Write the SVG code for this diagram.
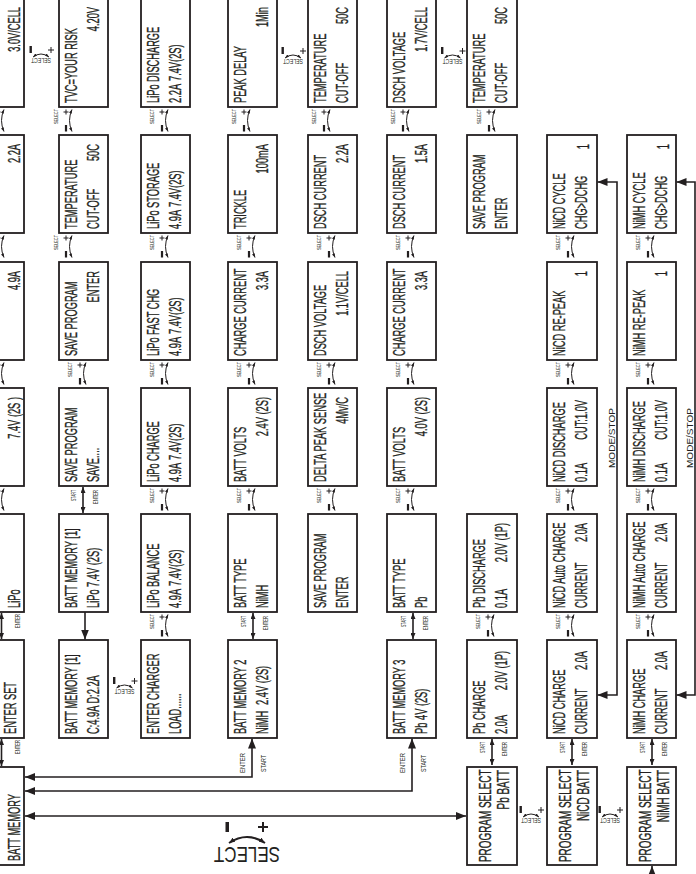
<svg xmlns="http://www.w3.org/2000/svg" width="696" height="874" viewBox="0 0 696 874">
<style>
.box{fill:#fff;stroke:#231f20;stroke-width:1.8}
.t{font-family:"Liberation Sans",Arial,sans-serif;font-size:16px;fill:#231f20;stroke:#231f20;stroke-width:0.35}
.s{font-family:"Liberation Sans",Arial,sans-serif;fill:#231f20}
.ln{fill:none;stroke:#231f20;stroke-width:1.6}
.thin{fill:none;stroke:#231f20;stroke-width:1}
.e{text-anchor:end}
.m{text-anchor:middle}
</style>
<defs>
<marker id="ah" viewBox="0 0 10 8" refX="10" refY="4" markerWidth="10" markerHeight="8" markerUnits="userSpaceOnUse" orient="auto-start-reverse"><path d="M0,0L10,4L0,8z" fill="#231f20"/></marker>
<marker id="as" viewBox="0 0 6 5" refX="6" refY="2.5" markerWidth="6" markerHeight="5" markerUnits="userSpaceOnUse" orient="auto-start-reverse"><path d="M0,0L6,2.5L0,5z" fill="#231f20"/></marker>
<marker id="at" viewBox="0 0 4 3" refX="4" refY="1.5" markerWidth="4" markerHeight="3" markerUnits="userSpaceOnUse" orient="auto-start-reverse"><path d="M0,0L4,1.5L0,3z" fill="#231f20"/></marker>
<g id="selV">
<text class="s" font-size="6" transform="translate(13,17) rotate(-90)" textLength="15" lengthAdjust="spacingAndGlyphs">SELECT</text>
<path d="M18.5,5h5M21,2.5v5" class="thin"/>
<rect x="19.9" y="18" width="2.2" height="6.5" fill="#231f20"/>
<path d="M27,2.5Q22,13.5 27,24.5" class="thin" marker-start="url(#at)" marker-end="url(#at)"/>
</g>
<g id="selH">
<rect x="-11.5" y="0" width="2.4" height="7" fill="#231f20"/>
<path d="M7,4h6M10,1v6" class="thin"/>
<path d="M-8,11Q0,5 8,11" class="thin" marker-start="url(#at)" marker-end="url(#at)"/>
<text class="s m" font-size="7" transform="translate(0,12) rotate(180)" textLength="20" lengthAdjust="spacingAndGlyphs">SELECT</text>
</g>
<g id="dbl">
<path d="M25,1V27" class="ln" marker-start="url(#as)" marker-end="url(#as)"/>
<text class="s e" font-size="6.5" transform="translate(18,4) rotate(-90)" textLength="11" lengthAdjust="spacingAndGlyphs">START</text>
<text class="s e" font-size="6.5" transform="translate(40,4) rotate(-90)" textLength="14" lengthAdjust="spacingAndGlyphs">ENTER</text>
</g>
</defs>
<rect width="696" height="874" fill="#fff"/>

<!-- column 0 -->
<g id="c0r0" transform="translate(-24,107) rotate(-90)"><rect class="box" width="109" height="48"/><g transform="scale(0.58,1)"><text class="t e" x="172.4" y="44">3.0V/CELL</text></g></g>
<g id="c0r1" transform="translate(-24,233) rotate(-90)"><rect class="box" width="98" height="48"/><g transform="scale(0.58,1)"><text class="t e" x="153.4" y="44">2.2A</text></g></g>
<g id="c0r2" transform="translate(-24,360) rotate(-90)"><rect class="box" width="98" height="48"/><g transform="scale(0.58,1)"><text class="t e" x="153.4" y="44">4.9A</text></g></g>
<g id="c0r3" transform="translate(-24,486) rotate(-90)"><rect class="box" width="98" height="48"/><g transform="scale(0.58,1)"><text class="t e" x="153.4" y="44">7.4V (2S )</text></g></g>
<g id="c0r4" transform="translate(-24,612) rotate(-90)"><rect class="box" width="98" height="48"/><g transform="scale(0.58,1)"><text class="t" x="6.9" y="44">LiPo</text></g></g>
<g id="c0r5" transform="translate(-24,738) rotate(-90)"><rect class="box" width="98" height="48"/><g transform="scale(0.58,1)"><text class="t" x="6.9" y="40">ENTER SET</text></g></g>
<g id="c0r6" transform="translate(-24,865) rotate(-90)"><rect class="box" width="98" height="48"/><g transform="scale(0.58,1)"><text class="t" x="6.9" y="44">BATT MEMORY</text></g></g>

<!-- column 1 -->
<g id="c1r0" transform="translate(59,107) rotate(-90)"><rect class="box" width="109" height="49"/><g transform="scale(0.58,1)"><text class="t" x="6.9" y="18">TVC=YOUR RISK</text><text class="t e" x="172.4" y="40">4.20V</text></g></g>
<g id="c1r1" transform="translate(59,233) rotate(-90)"><rect class="box" width="98" height="49"/><g transform="scale(0.58,1)"><text class="t" x="6.9" y="18">TEMPERATURE</text><text class="t" x="6.9" y="40">CUT-OFF</text><text class="t e" x="153.4" y="40">50C</text></g></g>
<g id="c1r2" transform="translate(59,360) rotate(-90)"><rect class="box" width="98" height="49"/><g transform="scale(0.58,1)"><text class="t" x="6.9" y="18">SAVE PROGRAM</text><text class="t e" x="153.4" y="40">ENTER</text></g></g>
<g id="c1r3" transform="translate(59,486) rotate(-90)"><rect class="box" width="98" height="49"/><g transform="scale(0.58,1)"><text class="t" x="6.9" y="18">SAVE PROGRAM</text><text class="t" x="6.9" y="40">SAVE....</text></g></g>
<g id="c1r4" transform="translate(59,612) rotate(-90)"><rect class="box" width="98" height="49"/><g transform="scale(0.58,1)"><text class="t" x="6.9" y="18">BATT MEMORY [1]</text><text class="t" x="6.9" y="40">LiPo 7.4V (2S)</text></g></g>
<g id="c1r5" transform="translate(59,738) rotate(-90)"><rect class="box" width="98" height="49"/><g transform="scale(0.58,1)"><text class="t" x="6.9" y="18">BATT MEMORY [1]</text><text class="t" x="6.9" y="40">C:4.9A D:2.2A</text></g></g>

<!-- column 2 -->
<g id="c2r0" transform="translate(141,107) rotate(-90)"><rect class="box" width="109" height="49"/><g transform="scale(0.58,1)"><text class="t" x="6.9" y="18">LiPo DISCHARGE</text><text class="t" x="6.9" y="40">2.2A</text><text class="t" x="44.8" y="40">7.4V(2S)</text></g></g>
<g id="c2r1" transform="translate(141,233) rotate(-90)"><rect class="box" width="98" height="49"/><g transform="scale(0.58,1)"><text class="t" x="6.9" y="18">LiPo STORAGE</text><text class="t" x="6.9" y="40">4.9A</text><text class="t" x="44.8" y="40">7.4V(2S)</text></g></g>
<g id="c2r2" transform="translate(141,360) rotate(-90)"><rect class="box" width="98" height="49"/><g transform="scale(0.58,1)"><text class="t" x="6.9" y="18">LiPo FAST CHG</text><text class="t" x="6.9" y="40">4.9A</text><text class="t" x="44.8" y="40">7.4V(2S)</text></g></g>
<g id="c2r3" transform="translate(141,486) rotate(-90)"><rect class="box" width="98" height="49"/><g transform="scale(0.58,1)"><text class="t" x="6.9" y="18">LiPo CHARGE</text><text class="t" x="6.9" y="40">4.9A</text><text class="t" x="44.8" y="40">7.4V(2S)</text></g></g>
<g id="c2r4" transform="translate(141,612) rotate(-90)"><rect class="box" width="98" height="49"/><g transform="scale(0.58,1)"><text class="t" x="6.9" y="18">LiPo BALANCE</text><text class="t" x="6.9" y="40">4.9A</text><text class="t" x="44.8" y="40">7.4V(2S)</text></g></g>
<g id="c2r5" transform="translate(141,738) rotate(-90)"><rect class="box" width="98" height="49"/><g transform="scale(0.58,1)"><text class="t" x="6.9" y="18">ENTER CHARGER</text><text class="t" x="6.9" y="40">LOAD......</text></g></g>

<!-- column 3 -->
<g id="c3r0" transform="translate(228,107) rotate(-90)"><rect class="box" width="109" height="49"/><g transform="scale(0.58,1)"><text class="t" x="6.9" y="18">PEAK DELAY</text><text class="t e" x="172.4" y="40">1Min</text></g></g>
<g id="c3r1" transform="translate(228,233) rotate(-90)"><rect class="box" width="98" height="49"/><g transform="scale(0.58,1)"><text class="t" x="6.9" y="18">TRICKLE</text><text class="t e" x="153.4" y="40">100mA</text></g></g>
<g id="c3r2" transform="translate(228,360) rotate(-90)"><rect class="box" width="98" height="49"/><g transform="scale(0.58,1)"><text class="t" x="6.9" y="18">CHARGE CURRENT</text><text class="t e" x="153.4" y="40">3.3A</text></g></g>
<g id="c3r3" transform="translate(228,486) rotate(-90)"><rect class="box" width="98" height="49"/><g transform="scale(0.58,1)"><text class="t" x="6.9" y="18">BATT VOLTS</text><text class="t e" x="153.4" y="40">2.4V (2S)</text></g></g>
<g id="c3r4" transform="translate(228,612) rotate(-90)"><rect class="box" width="98" height="49"/><g transform="scale(0.58,1)"><text class="t" x="6.9" y="18">BATT TYPE</text><text class="t" x="6.9" y="40">NiMH</text></g></g>
<g id="c3r5" transform="translate(228,738) rotate(-90)"><rect class="box" width="98" height="49"/><g transform="scale(0.58,1)"><text class="t" x="6.9" y="18">BATT MEMORY 2</text><text class="t" x="6.9" y="40">NiMH</text><text class="t" x="56.9" y="40">2.4V (2S)</text></g></g>

<!-- column 4 -->
<g id="c4r0" transform="translate(308,107) rotate(-90)"><rect class="box" width="109" height="49"/><g transform="scale(0.58,1)"><text class="t" x="6.9" y="18">TEMPERATURE</text><text class="t" x="6.9" y="40">CUT-OFF</text><text class="t e" x="172.4" y="40">50C</text></g></g>
<g id="c4r1" transform="translate(308,233) rotate(-90)"><rect class="box" width="98" height="49"/><g transform="scale(0.58,1)"><text class="t" x="6.9" y="18">DSCH CURRENT</text><text class="t e" x="153.4" y="40">2.2A</text></g></g>
<g id="c4r2" transform="translate(308,360) rotate(-90)"><rect class="box" width="98" height="49"/><g transform="scale(0.58,1)"><text class="t" x="6.9" y="18">DSCH VOLTAGE</text><text class="t e" x="153.4" y="40">1.1V/CELL</text></g></g>
<g id="c4r3" transform="translate(308,486) rotate(-90)"><rect class="box" width="98" height="49"/><g transform="scale(0.58,1)"><text class="t" x="6.9" y="18">DELTA PEAK SENSE</text><text class="t e" x="153.4" y="40">4Mv/C</text></g></g>
<g id="c4r4" transform="translate(308,612) rotate(-90)"><rect class="box" width="98" height="49"/><g transform="scale(0.58,1)"><text class="t" x="6.9" y="18">SAVE PROGRAM</text><text class="t" x="6.9" y="40">ENTER</text></g></g>

<!-- column 5 -->
<g id="c5r0" transform="translate(387,107) rotate(-90)"><rect class="box" width="109" height="49"/><g transform="scale(0.58,1)"><text class="t" x="6.9" y="18">DSCH VOLTAGE</text><text class="t e" x="172.4" y="40">1.7V/CELL</text></g></g>
<g id="c5r1" transform="translate(387,233) rotate(-90)"><rect class="box" width="98" height="49"/><g transform="scale(0.58,1)"><text class="t" x="6.9" y="18">DSCH CURRENT</text><text class="t e" x="153.4" y="40">1.5A</text></g></g>
<g id="c5r2" transform="translate(387,360) rotate(-90)"><rect class="box" width="98" height="49"/><g transform="scale(0.58,1)"><text class="t" x="6.9" y="18">CHARGE CURRENT</text><text class="t e" x="153.4" y="40">3.3A</text></g></g>
<g id="c5r3" transform="translate(387,486) rotate(-90)"><rect class="box" width="98" height="49"/><g transform="scale(0.58,1)"><text class="t" x="6.9" y="18">BATT VOLTS</text><text class="t e" x="153.4" y="40">4.0V (2S)</text></g></g>
<g id="c5r4" transform="translate(387,612) rotate(-90)"><rect class="box" width="98" height="49"/><g transform="scale(0.58,1)"><text class="t" x="6.9" y="18">BATT TYPE</text><text class="t" x="6.9" y="40">Pb</text></g></g>
<g id="c5r5" transform="translate(387,738) rotate(-90)"><rect class="box" width="98" height="49"/><g transform="scale(0.58,1)"><text class="t" x="6.9" y="18">BATT MEMORY 3</text><text class="t" x="6.9" y="40">Pb</text><text class="t" x="31" y="40">4V (2S)</text></g></g>

<!-- column 6 -->
<g id="c6r0" transform="translate(467,107) rotate(-90)"><rect class="box" width="109" height="50"/><g transform="scale(0.58,1)"><text class="t" x="6.9" y="18">TEMPERATURE</text><text class="t" x="6.9" y="40">CUT-OFF</text><text class="t e" x="172.4" y="40">50C</text></g></g>
<g id="c6r1" transform="translate(467,233) rotate(-90)"><rect class="box" width="98" height="50"/><g transform="scale(0.58,1)"><text class="t" x="6.9" y="18">SAVE PROGRAM</text><text class="t" x="6.9" y="40">ENTER</text></g></g>
<g id="c6r4" transform="translate(467,612) rotate(-90)"><rect class="box" width="98" height="50"/><g transform="scale(0.58,1)"><text class="t" x="6.9" y="18">Pb DISCHARGE</text><text class="t" x="6.9" y="40">0.1A</text><text class="t e" x="153.4" y="40">2.0V (1P)</text></g></g>
<g id="c6r5" transform="translate(467,738) rotate(-90)"><rect class="box" width="98" height="50"/><g transform="scale(0.58,1)"><text class="t" x="6.9" y="18">Pb CHARGE</text><text class="t" x="6.9" y="40">2.0A</text><text class="t e" x="150" y="40">2.0V (1P)</text></g></g>
<g id="c6r6" transform="translate(467,865) rotate(-90)"><rect class="box" width="98" height="50"/><g transform="scale(0.62,1)"><text class="t" x="4.8" y="24">PROGRAM SELECT</text><text class="t e" x="153.2" y="42">Pb BATT</text></g></g>

<!-- column 7 -->
<g id="c7r1" transform="translate(547,233) rotate(-90)"><rect class="box" width="98" height="50"/><g transform="scale(0.58,1)"><text class="t" x="6.9" y="18">NiCD CYCLE</text><text class="t" x="6.9" y="40">CHG&gt;DCHG</text><text class="t e" x="153.4" y="42">1</text></g></g>
<g id="c7r2" transform="translate(547,360) rotate(-90)"><rect class="box" width="98" height="50"/><g transform="scale(0.58,1)"><text class="t" x="6.9" y="18">NiCD RE-PEAK</text><text class="t e" x="153.4" y="40">1</text></g></g>
<g id="c7r3" transform="translate(547,486) rotate(-90)"><rect class="box" width="98" height="50"/><g transform="scale(0.58,1)"><text class="t" x="6.9" y="18">NiCD DISCHARGE</text><text class="t" x="6.9" y="40">0.1A</text><text class="t e" x="148.3" y="40">CUT:1.0V</text></g></g>
<g id="c7r4" transform="translate(547,612) rotate(-90)"><rect class="box" width="98" height="50"/><g transform="scale(0.58,1)"><text class="t" x="6.9" y="18">NiCD Auto CHARGE</text><text class="t" x="6.9" y="40">CURRENT</text><text class="t e" x="153.4" y="40">2.0A</text></g></g>
<g id="c7r5" transform="translate(547,738) rotate(-90)"><rect class="box" width="98" height="50"/><g transform="scale(0.58,1)"><text class="t" x="6.9" y="18">NiCD CHARGE</text><text class="t" x="6.9" y="40">CURRENT</text><text class="t e" x="150" y="40">2.0A</text></g></g>
<g id="c7r6" transform="translate(547,865) rotate(-90)"><rect class="box" width="98" height="50"/><g transform="scale(0.62,1)"><text class="t" x="4.8" y="24">PROGRAM SELECT</text><text class="t e" x="153.2" y="42">NiCD BATT</text></g></g>

<!-- column 8 -->
<g id="c8r1" transform="translate(627,233) rotate(-90)"><rect class="box" width="98" height="49"/><g transform="scale(0.58,1)"><text class="t" x="6.9" y="18">NiMH CYCLE</text><text class="t" x="6.9" y="40">CHG&gt;DCHG</text><text class="t e" x="153.4" y="42">1</text></g></g>
<g id="c8r2" transform="translate(627,360) rotate(-90)"><rect class="box" width="98" height="49"/><g transform="scale(0.58,1)"><text class="t" x="6.9" y="18">NiMH RE-PEAK</text><text class="t e" x="153.4" y="40">1</text></g></g>
<g id="c8r3" transform="translate(627,486) rotate(-90)"><rect class="box" width="98" height="49"/><g transform="scale(0.58,1)"><text class="t" x="6.9" y="18">NiMH DISCHARGE</text><text class="t" x="6.9" y="40">0.1A</text><text class="t e" x="148.3" y="40">CUT:1.0V</text></g></g>
<g id="c8r4" transform="translate(627,612) rotate(-90)"><rect class="box" width="98" height="49"/><g transform="scale(0.58,1)"><text class="t" x="6.9" y="18">NiMH Auto CHARGE</text><text class="t" x="6.9" y="40">CURRENT</text><text class="t e" x="153.4" y="40">2.0A</text></g></g>
<g id="c8r5" transform="translate(627,738) rotate(-90)"><rect class="box" width="98" height="49"/><g transform="scale(0.58,1)"><text class="t" x="6.9" y="18">NiMH CHARGE</text><text class="t" x="6.9" y="40">CURRENT</text><text class="t e" x="150" y="40">2.0A</text></g></g>
<g id="c8r6" transform="translate(627,865) rotate(-90)"><rect class="box" width="98" height="49"/><g transform="scale(0.62,1)"><text class="t" x="4.8" y="24">PROGRAM SELECT</text><text class="t e" x="153.2" y="42">NiMH BATT</text></g></g>

<g id="connectors">
<use href="#selV" x="-23" y="107"/><use href="#selV" x="-23" y="233"/><use href="#selV" x="-23" y="360"/><use href="#selV" x="-23" y="486"/>
<use href="#selV" x="45" y="107"/><use href="#selV" x="45" y="233"/><use href="#selV" x="59" y="360"/>
<use href="#selV" x="141" y="107"/><use href="#selV" x="141" y="233"/><use href="#selV" x="141" y="360"/><use href="#selV" x="141" y="486"/><use href="#selV" x="141" y="612"/>
<use href="#selV" x="223" y="107"/><use href="#selV" x="228" y="233"/><use href="#selV" x="228" y="360"/><use href="#selV" x="228" y="486"/>
<use href="#selV" x="303" y="107"/><use href="#selV" x="308" y="233"/><use href="#selV" x="308" y="360"/><use href="#selV" x="308" y="486"/>
<use href="#selV" x="382" y="107"/><use href="#selV" x="387" y="233"/><use href="#selV" x="387" y="360"/><use href="#selV" x="387" y="486"/>
<use href="#selV" x="468" y="107"/><use href="#selV" x="467" y="612"/>
<use href="#selV" x="547" y="233"/><use href="#selV" x="547" y="360"/><use href="#selV" x="547" y="486"/><use href="#selV" x="547" y="612"/>
<use href="#selV" x="627" y="233"/><use href="#selV" x="627" y="360"/><use href="#selV" x="627" y="486"/><use href="#selV" x="627" y="612"/>

<use href="#selH" x="41" y="46"/>
<use href="#selH" x="124.5" y="677"/>
<use href="#selH" x="293" y="47"/>
<use href="#selH" x="452.5" y="47"/>
<use href="#selH" x="531" y="806"/>
<use href="#selH" x="610" y="806"/>

<use href="#dbl" x="58" y="486"/>
<use href="#dbl" x="228" y="612"/>
<use href="#dbl" x="388" y="612"/>
<use href="#dbl" x="467" y="738"/>
<use href="#dbl" x="547" y="738"/>
<use href="#dbl" x="627" y="738"/>

<path d="M1.5,613V639" class="ln" marker-start="url(#as)" marker-end="url(#as)"/>
<text class="s e" font-size="6.5" transform="translate(20,614) rotate(-90)" textLength="14" lengthAdjust="spacingAndGlyphs">ENTER</text>
<path d="M1.5,739V766" class="ln" marker-start="url(#as)" marker-end="url(#as)"/>
<text class="s e" font-size="6.5" transform="translate(20,740) rotate(-90)" textLength="14" lengthAdjust="spacingAndGlyphs">ENTER</text>

<path d="M85,612V639.5" class="ln" marker-end="url(#ah)"/>

<path d="M252,738.5V777H25" class="ln" marker-start="url(#ah)" marker-end="url(#ah)"/>
<text class="s" font-size="7.5" transform="translate(245,773) rotate(-90)" textLength="20" lengthAdjust="spacingAndGlyphs">ENTER</text>
<text class="s" font-size="7.5" transform="translate(266,772) rotate(-90)" textLength="17" lengthAdjust="spacingAndGlyphs">START</text>

<path d="M412,738.5V791H25" class="ln" marker-start="url(#ah)" marker-end="url(#ah)"/>
<text class="s" font-size="7.5" transform="translate(405,773) rotate(-90)" textLength="20" lengthAdjust="spacingAndGlyphs">ENTER</text>
<text class="s" font-size="7.5" transform="translate(426,772) rotate(-90)" textLength="17" lengthAdjust="spacingAndGlyphs">START</text>

<path d="M25,816H466" class="ln" marker-start="url(#ah)" marker-end="url(#ah)"/>

<path d="M597.5,182H617V695H597.5" class="ln" marker-start="url(#ah)" marker-end="url(#ah)"/>
<text class="s" font-size="9.5" transform="translate(615,468) rotate(-90)" textLength="60" lengthAdjust="spacingAndGlyphs">MODE/STOP</text>
<path d="M676.5,182H695V695H676.5" class="ln" marker-start="url(#ah)" marker-end="url(#ah)"/>
<text class="s" font-size="9.5" transform="translate(693,468) rotate(-90)" textLength="60" lengthAdjust="spacingAndGlyphs">MODE/STOP</text>

<path d="M652,880V866" class="ln" marker-end="url(#ah)"/>

<rect x="225.5" y="822" width="3.5" height="10" fill="#231f20"/>
<path d="M258,827h10M263,822v10" fill="none" stroke="#231f20" stroke-width="2"/>
<path d="M229,843Q247,831 265,843" fill="none" stroke="#231f20" stroke-width="2" marker-start="url(#as)" marker-end="url(#as)"/>
<text class="s m" font-size="22" transform="translate(247,847) rotate(180)" textLength="66" lengthAdjust="spacingAndGlyphs">SELECT</text>
</g>
</svg>
